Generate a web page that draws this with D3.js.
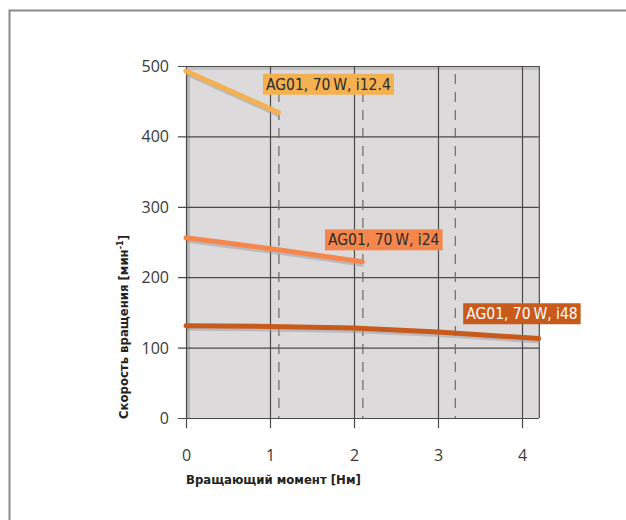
<!DOCTYPE html>
<html>
<head>
<meta charset="utf-8">
<script src="https://cdn.jsdelivr.net/npm/d3@7"></script>
<style>
  body { margin: 0; background: #fff; }
  svg { display: block; }
</style>
</head>
<body>
<div id="chart"></div>
<script>
// data
var xTicks = [0, 1, 2, 3, 4];
var yTicks = [0, 100, 200, 300, 400, 500];
var dashedAt = [1.1, 2.1, 3.2];   // dashed vertical marks

var torqueA = [0, 1.1];
var speedA  = [493, 434];
var torqueB = [0, 1.1, 2.1];
var speedB  = [256, 239, 222];
var torqueC = [0, 1, 2, 3, 4.2];
var speedC  = [131, 130, 128, 122, 113];

var seriesNames = ["AG01, 70\u2009W, i12.4", "AG01, 70\u2009W, i24", "AG01, 70\u2009W, i48"];
var seriesColors = ["#f5b04f", "#f5874d", "#c85a1b"];

var W = 626, H = 520;
var x = d3.scaleLinear().domain([0, 4]).range([186, 522]);
var y = d3.scaleLinear().domain([0, 500]).range([418, 66]);
var xMax = 4.2;
var condensed = "'DejaVu Sans Condensed', 'DejaVu Sans', sans-serif";

var svg = d3.select("#chart").append("svg")
    .attr("width", W)
    .attr("height", H);

// outer frame (top + left only)
svg.append("path")
   .attr("d", "M9.5,520 V10.5 H626")
   .attr("fill", "none")
   .attr("stroke", "#8a8a8a")
   .attr("stroke-width", 2);

// plot background
svg.append("rect")
   .attr("x", x(0)).attr("y", y(500))
   .attr("width", x(xMax) - x(0)).attr("height", y(0) - y(500))
   .attr("fill", "#dcdadb");
// darker strips at left and top
svg.append("rect")
   .attr("x", x(0)).attr("y", y(500))
   .attr("width", 4).attr("height", y(0) - y(500))
   .attr("fill", "#b9b7b9");
svg.append("rect")
   .attr("x", x(0)).attr("y", y(500))
   .attr("width", x(xMax) - x(0)).attr("height", 4)
   .attr("fill", "#c2c0c2");

// grid lines + ticks
svg.append("g").selectAll("line")
   .data(yTicks).enter().append("line")
   .attr("x1", x(0) - 8).attr("x2", x(xMax))
   .attr("y1", function(d) { return y(d) + 0.5; })
   .attr("y2", function(d) { return y(d) + 0.5; })
   .attr("stroke", "#4a4a4a").attr("stroke-width", 1.2);

svg.append("g").selectAll("line")
   .data(xTicks).enter().append("line")
   .attr("x1", function(d) { return x(d) + 0.5; })
   .attr("x2", function(d) { return x(d) + 0.5; })
   .attr("y1", y(500)).attr("y2", y(0) + 10)
   .attr("stroke", "#4a4a4a").attr("stroke-width", 1.2);

// right edge of plot
svg.append("line")
   .attr("x1", x(xMax) + 0.5).attr("x2", x(xMax) + 0.5)
   .attr("y1", y(500)).attr("y2", y(0))
   .attr("stroke", "#4a4a4a").attr("stroke-width", 1.2);

// dashed marks
svg.append("g").selectAll("line")
   .data(dashedAt).enter().append("line")
   .attr("x1", function(d) { return x(d) + 0.5; })
   .attr("x2", function(d) { return x(d) + 0.5; })
   .attr("y1", y(500) + 8).attr("y2", y(0))
   .attr("stroke", "#6a6a6a").attr("stroke-width", 1.2)
   .attr("stroke-dasharray", "10,8");

// tick labels
svg.append("g").selectAll("text")
   .data(yTicks).enter().append("text")
   .attr("x", 169).attr("y", function(d) { return y(d) + 6; })
   .attr("text-anchor", "end")
   .attr("font-family", "'Open Sans', sans-serif")
   .attr("font-size", 16)
   .attr("fill", "#3a3a3a")
   .text(function(d) { return d; });

svg.append("g").selectAll("text")
   .data(xTicks).enter().append("text")
   .attr("x", function(d) { return x(d) + 0.5; }).attr("y", 461)
   .attr("text-anchor", "middle")
   .attr("font-family", "'Open Sans', sans-serif")
   .attr("font-size", 16)
   .attr("fill", "#3a3a3a")
   .text(function(d) { return d; });

// axis titles
svg.append("text")
   .attr("x", 186).attr("y", 484)
   .attr("font-family", condensed)
   .attr("font-weight", "bold")
   .attr("font-size", 13)
   .attr("fill", "#222")
   .text("Вращающий момент [Нм]");

var yt = svg.append("text")
   .attr("transform", "translate(128,327) rotate(-90)")
   .attr("text-anchor", "middle")
   .attr("font-family", condensed)
   .attr("font-weight", "bold")
   .attr("font-size", 13)
   .attr("fill", "#222");
yt.append("tspan").text("Скорость вращения [мин");
yt.append("tspan").attr("dy", -5).attr("font-size", 9).text("-1");
yt.append("tspan").attr("dy", 5).text("]");

// curves
var line = d3.line()
   .x(function(d) { return x(d[0]); })
   .y(function(d) { return y(d[1]); });

var curves = [
  d3.zip(torqueA, speedA),
  d3.zip(torqueB, speedB),
  d3.zip(torqueC, speedC)
];

// faint shadow under the lines
svg.append("g").selectAll("path")
   .data(curves).enter().append("path")
   .attr("d", line)
   .attr("transform", "translate(1,3)")
   .attr("fill", "none")
   .attr("stroke", "#9a98a0")
   .attr("stroke-opacity", 0.5)
   .attr("stroke-width", 4);

svg.append("g").selectAll("path")
   .data(curves).enter().append("path")
   .attr("d", line)
   .attr("fill", "none")
   .attr("stroke", function(d, i) { return seriesColors[i]; })
   .attr("stroke-width", 5)
   .attr("stroke-linecap", "round");

// labels (top-left corner of each box, in data units)
var labelPos = [[0.917, 489], [1.655, 268], [3.30, 163]];
var textCols = ["#2a2a2a", "#2a2a2a", "#ffffff"];

seriesNames.forEach(function(name, i) {
  var g = svg.append("g")
     .attr("transform", "translate(" + x(labelPos[i][0]) + "," + y(labelPos[i][1]) + ")");
  var t = g.append("text")
     .attr("x", 3).attr("y", 16)
     .attr("font-family", condensed)
     .attr("font-size", 15.5)
     .attr("fill", textCols[i])
     .text(name);
  var bb = t.node().getBBox();
  g.insert("rect", "text")
     .attr("x", 0).attr("y", 0)
     .attr("width", bb.width + 6).attr("height", 21)
     .attr("fill", seriesColors[i]);
});
</script>
</body>
</html>
